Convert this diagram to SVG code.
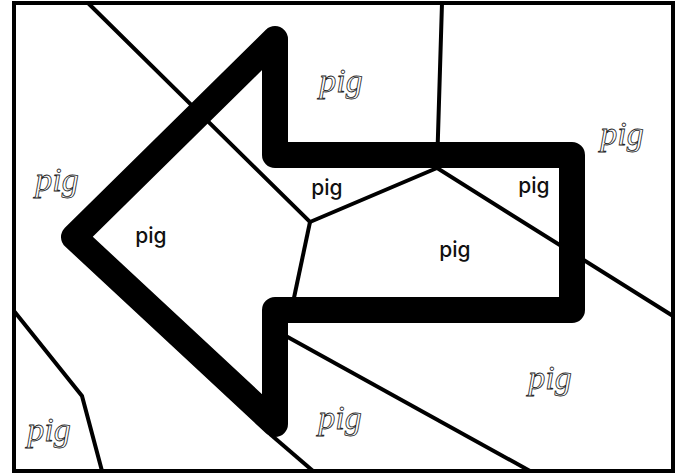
<svg xmlns="http://www.w3.org/2000/svg" width="683" height="473" viewBox="0 0 683 473">
<style>
.thin{fill:none;stroke:#000;stroke-width:4;stroke-linecap:butt;stroke-linejoin:miter}
.arrow{fill:none;stroke:#000;stroke-width:26;stroke-linejoin:round}
.bold{font-family:Inter,"DejaVu Sans",sans-serif;font-weight:500;font-size:21px;fill:#111;text-anchor:middle}
.script{font-family:"Liberation Serif","DejaVu Serif",serif;font-style:italic;font-size:34px;fill:#fff;stroke:#222;stroke-width:0.8;text-anchor:middle}
</style>
<rect x="0" y="0" width="683" height="473" fill="#fff"/>
<g id="connectors">
<rect x="14" y="3" width="659" height="468" class="thin" stroke-width="4.5"/>
<polyline class="thin" points="88,3 310,222 437,168"/>
<polyline class="thin" points="310,222 291,312"/>
<polyline class="thin" points="442,3 437,168 673,316"/>
<polyline class="thin" points="275,330 530,471"/>
<polyline class="thin" points="270,434 313,471"/>
<polyline class="thin" points="14,311 82,396 102,471"/>
</g>
<g id="arrow">
<polygon class="arrow" points="275,39 275,155 572,155 572,310 275,310 275,424 74,237"/>
</g>
<g id="labels-bold">
<text id="n1" class="bold" x="151" y="243">pig</text>
<text id="n2" class="bold" x="327" y="195">pig</text>
<text id="n3" class="bold" x="534" y="193">pig</text>
<text id="n4" class="bold" x="455" y="257">pig</text>
</g>
<g id="labels-script">
<text id="s1" class="script" x="341" y="92">pig</text>
<text id="s2" class="script" x="57" y="191">pig</text>
<text id="s3" class="script" x="622" y="145">pig</text>
<text id="s4" class="script" x="550" y="389">pig</text>
<text id="s5" class="script" x="340" y="429">pig</text>
<text id="s6" class="script" x="49" y="441">pig</text>
</g>
</svg>
